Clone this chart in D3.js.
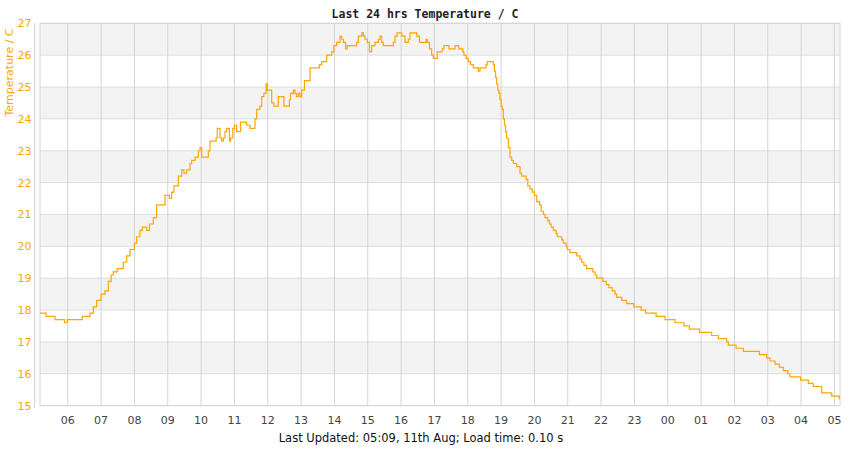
<!DOCTYPE html>
<html>
<head>
<meta charset="utf-8">
<script src="https://cdn.jsdelivr.net/npm/d3@7"></script>
<style>
  body { margin: 0; background: #fff; }
  svg { display: block; }
</style>
</head>
<body>
<svg id="chart" width="850" height="450"></svg>
<script>
// Readings, 24 hours from 05:10 on the 10th to 05:09 on the 11th
const times = [
  "05:10","05:21","05:37","05:54","05:59","06:26","06:40","06:46","06:52","07:00",
  "07:07","07:13","07:18","07:22","07:29","07:40","07:46","07:52","08:00","08:04",
  "08:10","08:14","08:22","08:27","08:34","08:40","08:55","09:03","09:07","09:11",
  "09:19","09:25","09:29","09:34","09:40","09:43","09:49","09:55","09:58","10:01",
  "10:13","10:16","10:27","10:29","10:34","10:37","10:40","10:43","10:46","10:51",
  "10:53","10:57","11:00","11:04","11:11","11:22","11:28","11:37","11:40","11:46",
  "11:49","11:53","11:57","11:59","12:07","12:11","12:19","12:29","12:39","12:41",
  "12:46","12:49","12:52","12:55","12:58","13:01","13:06","13:16","13:33","13:37",
  "13:46","13:55","13:59","14:04","14:10","14:13","14:16","14:20","14:23","14:40",
  "14:43","14:49","14:52","14:55","14:59","15:03","15:07","15:13","15:19","15:22",
  "15:25","15:28","15:46","15:49","15:53","16:01","16:07","16:13","16:16","16:28",
  "16:33","16:45","16:47","16:51","16:55","16:58","17:05","17:14","17:17","17:26",
  "17:37","17:44","17:51","17:53","17:57","18:01","18:05","18:10","18:19","18:22",
  "18:33","18:35","18:46","18:48","18:50","18:52","18:54","18:56","18:58","19:00",
  "19:02","19:04","19:06","19:08","19:10","19:13","19:16","19:19","19:22","19:28",
  "19:34","19:37","19:45","19:48","19:52","19:56","20:00","20:04","20:09","20:12",
  "20:16","20:19","20:24","20:27","20:30","20:34","20:39","20:41","20:49","20:52",
  "20:57","20:59","21:04","21:16","21:22","21:25","21:29","21:34","21:45","21:49",
  "21:52","22:03","22:09","22:14","22:20","22:25","22:28","22:37","22:46","22:59",
  "23:12","23:20","23:39","23:55","00:13","00:29","00:39","00:57","01:19","01:31",
  "01:46","01:49","02:03","02:16","02:45","02:58","03:04","03:13","03:21","03:28",
  "03:36","03:40","03:59","04:13","04:22","04:37","04:55","05:09"
];

const temps = [
  17.9,17.8,17.7,17.6,17.7,17.8,17.9,18.1,18.3,18.5,
  18.6,18.9,19.1,19.2,19.3,19.5,19.7,19.9,20.1,20.3,
  20.5,20.6,20.5,20.7,20.9,21.3,21.6,21.5,21.7,21.9,
  22.2,22.4,22.3,22.4,22.6,22.7,22.8,23.0,23.1,22.8,
  23.0,23.3,23.4,23.7,23.4,23.3,23.4,23.6,23.7,23.3,
  23.4,23.7,23.8,23.6,23.9,23.8,23.7,24.0,24.3,24.4,
  24.7,24.8,25.1,24.9,24.5,24.4,24.7,24.4,24.6,24.8,
  24.9,24.8,24.7,24.8,24.7,24.9,25.2,25.6,25.7,25.8,
  26.0,26.1,26.3,26.4,26.6,26.5,26.4,26.2,26.3,26.4,
  26.6,26.7,26.6,26.5,26.4,26.1,26.3,26.4,26.5,26.6,
  26.4,26.3,26.4,26.6,26.7,26.6,26.4,26.5,26.7,26.6,
  26.4,26.5,26.4,26.2,26.0,25.9,26.1,26.2,26.3,26.2,
  26.3,26.2,26.1,26.0,25.9,25.8,25.7,25.6,25.5,25.6,
  25.7,25.8,25.7,25.5,25.3,25.1,24.9,24.8,24.6,24.4,
  24.3,24.0,23.8,23.6,23.4,23.1,22.8,22.7,22.6,22.5,
  22.3,22.2,22.1,21.9,21.8,21.7,21.6,21.4,21.3,21.1,
  21.0,20.9,20.8,20.7,20.6,20.5,20.4,20.3,20.2,20.1,
  20.0,19.9,19.8,19.7,19.6,19.5,19.4,19.3,19.2,19.1,
  19.0,18.9,18.8,18.7,18.6,18.5,18.4,18.3,18.2,18.1,
  18.0,17.9,17.8,17.7,17.6,17.5,17.4,17.3,17.2,17.1,
  17.0,16.9,16.8,16.7,16.6,16.5,16.4,16.3,16.2,16.1,
  16.0,15.9,15.8,15.7,15.6,15.4,15.3,15.2
];

const yTicks = [15, 16, 17, 18, 19, 20, 21, 22, 23, 24, 25, 26, 27];
const windowStart = "05:10";
const windowEnd = "05:10";

const title = "Last 24 hrs Temperature / C";
const yTitle = "Temperature / C";
const footer = "Last Updated: 05:09, 11th Aug; Load time: 0.10 s";

const orange = "#ffa500";

// Turn clock times into dates, rolling over to the next day after midnight
const day = new Date(2024, 7, 10);
function toDate(hhmm, nextDay) {
  const [h, m] = hhmm.split(":").map(Number);
  return new Date(day.getFullYear(), day.getMonth(), day.getDate() + (nextDay ? 1 : 0), h, m);
}
let rolled = false;
let prev = -1;
const data = times.map((t, i) => {
  const [h, m] = t.split(":").map(Number);
  const mins = h * 60 + m;
  if (mins < prev) rolled = true;
  prev = mins;
  return { date: toDate(t, rolled), temp: temps[i] };
});

const svg = d3.select("#chart");
const plot = { left: 40, right: 840, top: 23.3, bottom: 405.6 };

const x = d3.scaleTime()
  .domain([toDate(windowStart, false), toDate(windowEnd, true)])
  .range([plot.left, plot.right]);

const y = d3.scaleLinear()
  .domain([15, 27])
  .range([plot.bottom, plot.top]);

// Alternating bands
svg.append("g")
  .selectAll("rect")
  .data(yTicks.filter(v => v < 27 && v % 2 === 0))
  .join("rect")
  .attr("x", plot.left)
  .attr("width", plot.right - plot.left)
  .attr("y", d => y(d + 1))
  .attr("height", d => y(d) - y(d + 1))
  .attr("fill", "#f3f3f3");

// Horizontal grid
svg.append("g")
  .selectAll("line")
  .data(yTicks)
  .join("line")
  .attr("x1", plot.left)
  .attr("x2", plot.right)
  .attr("y1", d => y(d))
  .attr("y2", d => y(d))
  .attr("stroke", "#dedede")
  .attr("stroke-width", 1);

// Vertical grid on every hour
const hours = x.ticks(d3.timeHour.every(1));
svg.append("g")
  .selectAll("line")
  .data(hours)
  .join("line")
  .attr("x1", d => x(d))
  .attr("x2", d => x(d))
  .attr("y1", plot.top)
  .attr("y2", plot.bottom)
  .attr("stroke", "#d4d4d4")
  .attr("stroke-width", 1);

// Plot frame
svg.append("rect")
  .attr("x", plot.left)
  .attr("y", plot.top)
  .attr("width", plot.right - plot.left)
  .attr("height", plot.bottom - plot.top)
  .attr("fill", "none")
  .attr("stroke", "#d4d4d4");

// Y axis line, set a bit away from the frame
svg.append("line")
  .attr("x1", 34.7).attr("x2", 34.7)
  .attr("y1", plot.top).attr("y2", plot.bottom + 2.5)
  .attr("stroke", "#d0d0d0");

// Y tick labels
svg.append("g")
  .selectAll("text")
  .data(yTicks)
  .join("text")
  .attr("x", 31.5)
  .attr("y", d => y(d))
  .attr("dy", "0.36em")
  .attr("text-anchor", "end")
  .attr("font-family", "DejaVu Sans")
  .attr("font-size", 11)
  .attr("fill", orange)
  .text(d => d);

// X tick labels
const fmtHour = d3.timeFormat("%H");
svg.append("g")
  .selectAll("text")
  .data(hours)
  .join("text")
  .attr("x", d => x(d))
  .attr("y", 424)
  .attr("text-anchor", "middle")
  .attr("font-family", "DejaVu Sans")
  .attr("font-size", 11)
  .attr("fill", "#444")
  .text(d => fmtHour(d));

// Temperature line
const line = d3.line()
  .x(d => x(d.date))
  .y(d => y(d.temp))
  .curve(d3.curveStepAfter);

svg.append("path")
  .datum(data)
  .attr("d", line)
  .attr("fill", "none")
  .attr("stroke", orange)
  .attr("stroke-width", 1.2);

// Titles
svg.append("text")
  .attr("x", 425)
  .attr("y", 17.5)
  .attr("text-anchor", "middle")
  .attr("font-family", "DejaVu Sans Mono")
  .attr("font-weight", "bold")
  .attr("font-size", 11.5)
  .attr("fill", "#222")
  .text(title);

svg.append("text")
  .attr("transform", "translate(12.5,72.5) rotate(-90)")
  .attr("text-anchor", "middle")
  .attr("font-family", "DejaVu Sans")
  .attr("font-size", 11)
  .attr("fill", orange)
  .text(yTitle);

svg.append("text")
  .attr("x", 421)
  .attr("y", 441.5)
  .attr("text-anchor", "middle")
  .attr("font-family", "DejaVu Sans")
  .attr("font-size", 11.5)
  .attr("fill", "#111")
  .text(footer);
</script>
</body>
</html>
